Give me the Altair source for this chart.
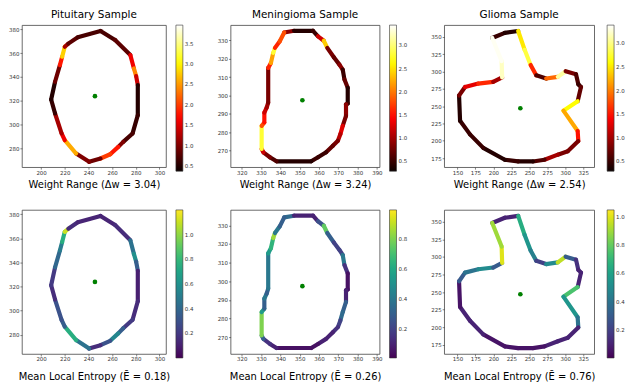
import altair as alt
import pandas as pd

# ---------------- data ----------------
# Pituitary contour (data units) and per-segment values
PIT_X = [250.2, 262.5, 275.4, 278.4, 280.3, 281.7, 281.7, 277.3, 269.4, 265.2, 258.4, 250.2,
         240.6, 229.6, 220.0, 217.3, 211.8, 208.5, 211.8, 215.9, 217.8, 220.0, 223.0, 231.0]
PIT_Y = [378.6, 371.0, 358.4, 347.1, 340.7, 333.1, 307.8, 292.4, 285.3, 281.1, 274.9, 271.3,
         268.5, 275.5, 286.7, 292.4, 309.2, 321.0, 335.9, 349.9, 357.0, 365.4, 368.0, 373.3]
PIT_W = [0.7, 0.8, 1.6, 2.4, 1.4, 0.5, 0.6, 0.7, 1.0, 1.8, 2.0, 0.9,
         1.0, 2.6, 1.6, 1.2, 0.6, 0.5, 0.9, 1.8, 2.8, 1.2, 0.8, 0.7]
PIT_E = [0.12, 0.15, 0.45, 0.6, 0.35, 0.1, 0.15, 0.2, 0.35, 0.55, 0.3, 0.15,
         0.45, 0.75, 0.35, 0.3, 0.15, 0.2, 0.4, 0.5, 0.75, 1.1, 0.15, 0.12]
PIT_C = (245.5, 323.8)

# Meningioma contour
MEN_X = [342.0, 347.1, 356.9, 359.5, 362.5, 364.3, 367.7, 370.6, 372.3, 373.2, 374.9, 374.9,
         374.0, 374.0, 372.3, 371.1, 369.8, 367.2, 363.7, 359.5, 356.0, 338.0, 334.6, 331.2,
         330.3, 330.3, 331.7, 331.7, 332.9, 333.7, 333.7, 335.1, 336.3, 337.2, 339.7]
MEN_Y = [334.3, 335.2, 335.2, 332.2, 329.8, 325.9, 320.8, 316.8, 314.1, 308.7, 304.2, 295.6,
         295.2, 288.9, 283.5, 279.0, 275.4, 272.7, 269.1, 266.4, 264.2, 264.2, 266.4, 269.1,
         270.9, 283.5, 285.3, 290.7, 293.4, 296.1, 315.0, 317.7, 323.2, 325.9, 329.5]
MEN_W = [0.9, 0.4, 0.5, 1.2, 2.4, 0.8, 0.7, 0.9, 0.5, 0.7, 0.4, 0.5,
         0.9, 0.8, 1.3, 1.1, 0.8, 0.7, 0.5, 0.5, 0.4, 0.6, 0.8, 1.2,
         2.8, 1.8, 1.5, 1.2, 1.0, 0.8, 1.6, 2.2, 2.8, 1.6, 1.8]
MEN_E = [0.35, 0.1, 0.1, 0.25, 0.75, 0.3, 0.2, 0.2, 0.4, 0.15, 0.05, 0.05,
         0.1, 0.3, 0.35, 0.2, 0.15, 0.1, 0.1, 0.05, 0.05, 0.1, 0.15, 0.3,
         0.8, 0.55, 0.3, 0.4, 0.3, 0.4, 0.55, 0.65, 0.85, 0.4, 0.3]
MEN_C = (351.4, 297.4)

# Glioma contour
GLI_X = [198.4, 215.9, 234.5, 243.5, 251.8, 259.6, 273.4, 289.6, 300.5, 314.9, 318.1, 321.8,
         317.2, 297.4, 317.2, 318.1, 303.4, 289.6, 271.1, 255.0, 234.3, 215.9, 185.9, 167.5,
         153.7, 152.3, 160.6, 179.0, 199.7, 212.2, 211.5]
GLI_Y = [348.5, 355.9, 358.6, 331.4, 309.4, 294.5, 289.9, 292.3, 300.5, 296.2, 281.6, 277.7,
         257.1, 243.5, 214.1, 199.5, 184.8, 179.9, 172.6, 170.1, 170.1, 172.6, 189.7, 209.2,
         228.8, 265.4, 277.7, 282.6, 285.0, 291.5, 315.0]
GLI_W = [0.5, 0.4, 2.5, 2.8, 1.6, 0.6, 1.9, 3.1, 0.8, 0.6, 0.5, 0.7,
         2.6, 2.2, 1.5, 0.8, 0.8, 1.0, 0.6, 0.4, 0.5, 0.4, 0.5, 0.5,
         0.4, 0.8, 1.3, 1.6, 1.0, 3.2, 3.35]
GLI_E = [0.1, 0.1, 0.65, 0.55, 0.45, 0.2, 0.5, 0.95, 0.3, 0.15, 0.1, 0.1,
         0.75, 0.55, 0.4, 0.1, 0.1, 0.1, 0.05, 0.05, 0.05, 0.05, 0.1, 0.1,
         0.05, 0.3, 0.4, 0.5, 0.3, 1.0, 0.9]
GLI_C = (237.5, 246.9)

TITLES = ["Pituitary Sample", "Meningioma Sample", "Glioma Sample"]
W_LABELS = ["Weight Range (Δw = 3.04)", "Weight Range (Δw = 3.24)", "Weight Range (Δw = 2.54)"]
E_LABELS = ["Mean Local Entropy (Ē = 0.18)", "Mean Local Entropy (Ē = 0.26)", "Mean Local Entropy (Ē = 0.76)"]

PIT_XT = [200, 220, 240, 260, 280, 300]
PIT_YT = [280, 300, 320, 340, 360, 380]
MEN_XT = [320, 330, 340, 350, 360, 370, 380, 390]
MEN_YT = [270, 280, 290, 300, 310, 320, 330]
GLI_XT = [150, 175, 200, 225, 250, 275, 300, 325]
GLI_YT = [175, 200, 225, 250, 275, 300, 325, 350]

PIT_XD, PIT_YD = [183.8, 305.5], [264.0, 383.6]
MEN_XD, MEN_YD = [314.2, 391.4], [261.0, 338.3]
GLI_XD, GLI_YD = [131.6, 340.2], [161.8, 367.1]

PIT_WD, MEN_WD, GLI_WD = [0.37, 3.96], [0.28, 3.44], [0.29, 3.39]
PIT_ED, MEN_ED, GLI_ED = [0.0, 1.2], [0.01, 0.99], [0.0, 1.05]
PIT_WT = [0.5, 1.0, 1.5, 2.0, 2.5, 3.0, 3.5]
MEN_WT = [0.5, 1.0, 1.5, 2.0, 2.5, 3.0]
GLI_WT = [0.5, 1.0, 1.5, 2.0, 2.5, 3.0]
PIT_ET = [0.2, 0.4, 0.6, 0.8, 1.0]
MEN_ET = [0.2, 0.4, 0.6, 0.8]
GLI_ET = [0.2, 0.4, 0.6, 0.8, 1.0]

HOT = ["#0b0000", "#ff0000", "#ffff00", "#ffffff"]
FONT = "DejaVu Sans"


def hot_scale(dom):
    lo, hi = dom
    r = hi - lo
    return alt.Scale(domain=[lo, lo + 0.365 * r, lo + 0.746 * r, hi], range=HOT, interpolate="rgb")


def vir_scale(dom):
    return alt.Scale(domain=dom, scheme="viridis")


def segments(xs, ys, vals):
    n = len(xs)
    return pd.DataFrame({
        "x": xs, "y": ys,
        "x2": [xs[(i + 1) % n] for i in range(n)],
        "y2": [ys[(i + 1) % n] for i in range(n)],
        "v": vals,
    })


def panel(xs, ys, vals, c, xdom, ydom, xt, yt, cscale, cticks, xlabel, w, h, tpad,
          loff=10, title=None):
    df = segments(xs, ys, vals)
    xs_ = alt.Scale(domain=xdom, nice=False, zero=False)
    ys_ = alt.Scale(domain=ydom, nice=False, zero=False)
    xax = alt.Axis(values=xt, title=xlabel, titlePadding=tpad, labelOverlap=False, labelFlush=False)
    yax = alt.Axis(values=yt, title=None, labelOverlap=False, labelFlush=False)
    seg = alt.Chart(df).mark_rule(strokeWidth=4.2, strokeCap="round").encode(
        x=alt.X("x:Q", scale=xs_, axis=xax),
        y=alt.Y("y:Q", scale=ys_, axis=yax),
        x2="x2:Q",
        y2="y2:Q",
        color=alt.Color("v:Q", scale=cscale,
                        legend=alt.Legend(title=None, values=cticks, format=".1f",
                                          gradientLength=h + 4, gradientThickness=7,
                                          offset=loff, labelOverlap=False)),
    )
    dot = alt.Chart(pd.DataFrame({"cx": [c[0]], "cy": [c[1]]})).mark_circle(
        color="green", size=22, opacity=1).encode(
        x=alt.X("cx:Q", scale=xs_, axis=xax),
        y=alt.Y("cy:Q", scale=ys_, axis=yax))
    ch = alt.layer(seg, dot).properties(width=w, height=h)
    if title:
        ch = ch.properties(title=alt.Title(title, frame="group", fontSize=10.5,
                                           fontWeight="normal", font=FONT, offset=5))
    return ch


p1 = panel(PIT_X, PIT_Y, PIT_W, PIT_C, PIT_XD, PIT_YD, PIT_XT, PIT_YT, hot_scale(PIT_WD), PIT_WT,
           W_LABELS[0], 145, 143, 4, 10, TITLES[0])
p2 = panel(MEN_X, MEN_Y, MEN_W, MEN_C, MEN_XD, MEN_YD, MEN_XT, MEN_YT, hot_scale(MEN_WD), MEN_WT,
           W_LABELS[1], 150, 143, 4, 10, TITLES[1])
p3 = panel(GLI_X, GLI_Y, GLI_W, GLI_C, GLI_XD, GLI_YD, GLI_XT, GLI_YT, hot_scale(GLI_WD), GLI_WT,
           W_LABELS[2], 151, 143, 4, 13, TITLES[2])
p4 = panel(PIT_X, PIT_Y, PIT_E, PIT_C, PIT_XD, PIT_YD, PIT_XT, PIT_YT, vir_scale(PIT_ED), PIT_ET,
           E_LABELS[0], 145, 145, 9, 10)
p5 = panel(MEN_X, MEN_Y, MEN_E, MEN_C, MEN_XD, MEN_YD, MEN_XT, MEN_YT, vir_scale(MEN_ED), MEN_ET,
           E_LABELS[1], 150, 145, 9, 10)
p6 = panel(GLI_X, GLI_Y, GLI_E, GLI_C, GLI_XD, GLI_YD, GLI_XT, GLI_YT, vir_scale(GLI_ED), GLI_ET,
           E_LABELS[2], 151, 145, 9, 13)

ind = dict(color="independent", x="independent", y="independent")
row1 = alt.hconcat(p1, p2, p3, spacing=22).resolve_scale(**ind).resolve_legend(color="independent")
row2 = alt.hconcat(p4, p5, p6, spacing=22).resolve_scale(**ind).resolve_legend(color="independent")

chart = alt.vconcat(row1, row2, spacing=19).resolve_scale(**ind).resolve_legend(
    color="independent").properties(
    padding={"left": 0, "top": 0, "right": 0, "bottom": 0}
).configure_view(stroke="#444", strokeWidth=0.8).configure_axis(
    labelFont=FONT, labelFontSize=5.5, labelColor="#333", labelPadding=1,
    labelOverlap=False, labelFlush=False,
    tickSize=2, tickWidth=0.6, tickColor="#333", domain=False, grid=False,
    titleFont=FONT, titleFontSize=10, titleFontWeight="normal", titleColor="black"
).configure_legend(
    labelFont=FONT, labelFontSize=5.5, labelColor="#333", labelOffset=3,
    gradientStrokeColor="#333", gradientStrokeWidth=0.6
)

chart.save("out.html", embed_options={"renderer": "svg", "actions": False})
